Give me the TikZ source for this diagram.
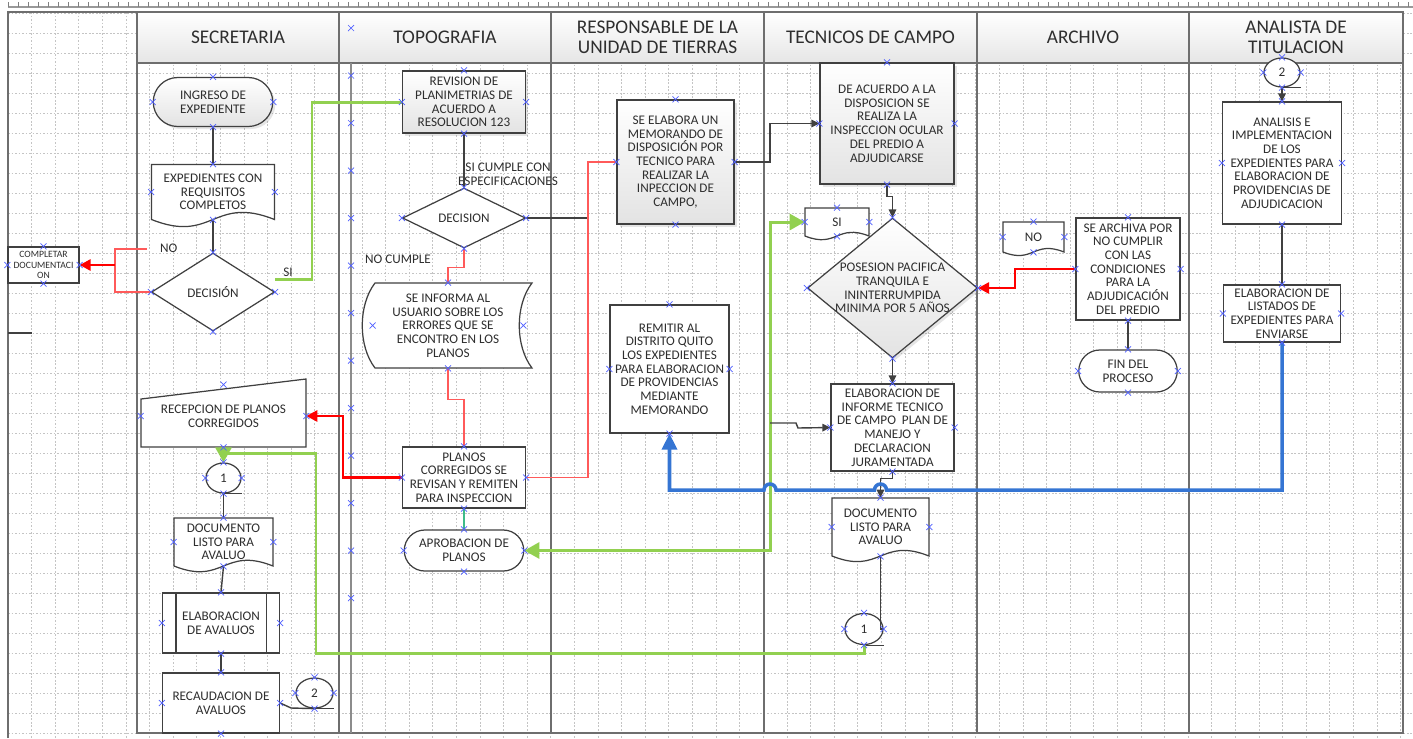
\documentclass[tikz,border=0pt]{standalone}
\usepackage{fontspec}
\setmainfont{Carlito}
\usetikzlibrary{arrows.meta, positioning, shapes.geometric, shapes.misc, shadows}
\def\pu{0.2mm}
\definecolor{lineGray}{HTML}{404040}
\definecolor{laneGray}{HTML}{6E6E6E}
\definecolor{gridGray}{HTML}{C4C4C4}
\definecolor{txtGray}{HTML}{2E2E2E}
\definecolor{flowRed}{HTML}{FF0000}
\definecolor{thinRed}{HTML}{FF5A5A}
\definecolor{flowGreen}{HTML}{92D050}
\definecolor{tealGreen}{HTML}{3DBB8A}
\definecolor{flowBlue}{HTML}{3575D3}
\definecolor{markBlue}{HTML}{5060FF}
\newcommand{\docnode}[6]{%
% #1 = name, #2 = x, #3 = y, #4 = width, #5 = height, #6 = text
\draw[shape line, fill=white]
({#2-#4/2},{#3-#5/2}) -- ({#2+#4/2},{#3-#5/2}) -- ({#2+#4/2},{#3+#5/2})
.. controls ({#2},{#3+#5/2-0.2*#4}) and ({#2},{#3+#5/2+0.2*#4}) .. ({#2-#4/2},{#3+#5/2}) -- cycle;
\node[txt, wh={#4}{#5}] (#1) at (#2,#3) {#6};
}
\begin{document}
\begin{tikzpicture}[
    x=\pu, y=-\pu,
    >={Triangle[length=1.6mm,width=1.5mm]},
    txt/.style={font=\fontsize{7.5}{7.8}\selectfont, text=txtGray, align=center, inner sep=1pt},
    wh/.style 2 args={minimum width=#1*\pu, minimum height=#2*\pu},
    shape line/.style={draw=lineGray, line width=0.7pt},
    box/.style={txt, rectangle, shape line, fill=white},
    grayfill/.style={top color=white, bottom color=black!11, drop shadow={opacity=0.2, shadow xshift=0.5mm, shadow yshift=-0.5mm}},
    term/.style={txt, rounded rectangle, shape line, fill=white},
    decision/.style={diamond, shape line, fill=white, inner sep=0pt},
    oncon/.style={txt, ellipse, shape line, fill=white, inner sep=0pt},
    conn/.style={draw=lineGray, line width=0.8pt},
    lanehead/.style={draw=laneGray, line width=1pt, top color=white, bottom color=black!10, font=\fontsize{11}{11.5}\selectfont, text=txtGray, align=center, minimum height=51*\pu},
    lane/.style={draw=laneGray, line width=1.1pt},
    gridline/.style={draw=gridGray, line width=0.35pt, dash pattern=on 1pt off 1pt},
    green line/.style={draw=flowGreen, line width=1.7pt},
    red thick/.style={draw=flowRed, line width=1.6pt},
    red thin/.style={draw=thinRed, line width=0.6pt},
    blue line/.style={draw=flowBlue, line width=2pt},
    xmark/.style={draw=markBlue, line width=0.4pt}
]
\useasboundingbox (0,0) rectangle (1413,738);
\fill[white] (0,0) rectangle (1413,738);

% background grid and ruler
\foreach \i in {0,...,59}
    \draw[gridline] ({8+23.6*\i},12) -- ({8+23.6*\i},738);
\foreach \i in {0,...,36}
    \draw[gridline] (8,{13+20*\i}) -- (1413,{13+20*\i});
\draw[black!40, line width=0.8pt] (8,7) -- (1413,7);
\foreach \i in {0,...,140}
    \draw[black!50, line width=0.4pt] ({8+10*\i},2) -- ({8+10*\i},7);
\draw[lane] (8,738) -- (8,12) -- (137,12);
\draw[conn] (8,333) -- (32,333);

% lanes
\node[lanehead, minimum width=202*\pu] (hsec) at (238,37.5) {SECRETARIA};
\node[lanehead, minimum width=212*\pu] (htop) at (445,37.5) {TOPOGRAFIA};
\node[lanehead, minimum width=213*\pu] (hres) at (657.5,37.5) {RESPONSABLE DE LA\\UNIDAD DE TIERRAS};
\node[lanehead, minimum width=213*\pu] (htec) at (870.5,37.5) {TECNICOS DE CAMPO};
\node[lanehead, minimum width=212*\pu] (harc) at (1083,37.5) {ARCHIVO};
\node[lanehead, minimum width=214*\pu] (hana) at (1296,37.5) {ANALISTA DE\\TITULACION};
\draw[lane] (137,12) rectangle (1403,733);
\foreach \x in {339,551,764,977,1189}
    \draw[lane] (\x,12) -- (\x,733);
\draw[lane, draw=black!45] (351,63) -- (351,733);

% secretaria
\node[term, grayfill, wh={123}{49}] (ingreso) at (213,102) {INGRESO DE\\EXPEDIENTE};
\docnode{expcomp}{213}{192}{123}{55}{EXPEDIENTES CON\\REQUISITOS\\COMPLETOS}
\node[decision, wh={123}{78}, label={[txt]center:DECISIÓN}] (dec1) at (213,292) {};
\node[box, wh={71}{36}, font=\fontsize{5.5}{5.9}\selectfont, inner sep=0pt] (compdoc) at (43.5,265) {COMPLETAR\\DOCUMENTACI\\ON};
\draw[shape line, fill=white] (141,399) -- (306,379) -- (306,447) -- (141,447) -- cycle;
\node[txt, wh={165}{62}] (recep) at (223.5,416) {RECEPCION DE PLANOS\\CORREGIDOS};
\node[oncon, wh={35}{30}] (con1a) at (223.5,478) {1};
\docnode{doc1}{223.5}{542}{99}{48}{DOCUMENTO\\LISTO PARA\\AVALUO}
\node[box, wh={117}{60}] (elab) at (221,623) {ELABORACION\\DE AVALUOS};
\draw[shape line] ([xshift=14*\pu]elab.north west) -- ([xshift=14*\pu]elab.south west);
\draw[shape line] ([xshift=-14*\pu]elab.north east) -- ([xshift=-14*\pu]elab.south east);
\node[box, wh={117}{60}] (recaud) at (221,703) {RECAUDACION DE\\AVALUOS};
\node[oncon, wh={37}{30}] (con2a) at (314.5,693) {2};
\node[txt, anchor=west] (lno) at (158,248) {NO};
\node[txt] (lsi) at (288,272) {SI};

% topografia
\node[box, grayfill, wh={123}{62}] (revision) at (464,102) {REVISION DE\\PLANIMETRIAS DE\\ACUERDO A\\RESOLUCION 123};
\node[decision, wh={123}{60}, label={[txt]center:DECISION}] (dec2) at (464,218) {};
\draw[shape line, fill=white] (375,283) -- (532,283) .. controls (515,305) and (515,346) .. (532,368)
    -- (375,368) .. controls (358,346) and (358,305) .. (375,283) -- cycle;
\node[txt, wh={150}{85}] (informa) at (448,325.5) {SE INFORMA AL\\USUARIO SOBRE LOS\\ERRORES QUE SE\\ENCONTRO EN LOS\\PLANOS};
\node[box, wh={123}{61}] (planos) at (464,477.5) {PLANOS\\CORREGIDOS SE\\REVISAN Y REMITEN\\PARA INSPECCION};
\node[term, wh={123}{41}] (aprob) at (464,550.5) {APROBACION DE\\PLANOS};
\node[txt] (lcumple) at (508,174) {SI CUMPLE CON\\ESPECIFICACIONES};
\node[txt, anchor=west] (lnocumple) at (363,259) {NO CUMPLE};

% responsable de la unidad de tierras
\node[box, grayfill, wh={117}{124}] (memo) at (675.5,162) {SE ELABORA UN\\MEMORANDO DE\\DISPOSICIÓN POR\\TECNICO PARA\\REALIZAR LA\\INPECCION DE\\CAMPO,};
\node[box, wh={119}{128}] (remitir) at (669.5,369) {REMITIR AL\\DISTRITO QUITO\\LOS EXPEDIENTES\\PARA ELABORACION\\DE PROVIDENCIAS\\MEDIANTE\\MEMORANDO};

% tecnicos de campo
\node[box, grayfill, wh={134}{121}] (acuerdo) at (887,123.5) {DE ACUERDO A LA\\DISPOSICION SE\\REALIZA LA\\INSPECCION OCULAR\\DEL PREDIO A\\ADJUDICARSE};
\docnode{sidoc}{837}{222}{64}{28}{SI}
\node[decision, grayfill, wh={170}{140}, label={[txt]center:{POSESION PACIFICA\\TRANQUILA E\\ININTERRUMPIDA\\MINIMA POR 5 AÑOS}}] (posesion) at (892.5,288) {};
\node[box, wh={123}{87}] (informe) at (892.5,427.5) {ELABORACION DE\\INFORME TECNICO\\DE CAMPO~ PLAN DE\\MANEJO Y\\DECLARACION\\JURAMENTADA};
\docnode{doc2}{880.5}{527}{97}{58}{DOCUMENTO\\LISTO PARA\\AVALUO}
\node[oncon, wh={38}{31}] (con1b) at (864,629) {1};

% archivo
\docnode{nodoc}{1033.5}{237}{61}{30}{NO}
\node[box, wh={104}{102}] (archiva) at (1128,269) {SE ARCHIVA POR\\NO CUMPLIR\\CON LAS\\CONDICIONES\\PARA LA\\ADJUDICACIÓN\\DEL PREDIO};
\node[term, wh={102}{42}] (fin) at (1128,371) {FIN DEL\\PROCESO};

% analista de titulacion
\node[oncon, wh={36}{29}] (con2b) at (1282,72.5) {2};
\node[box, wh={119}{122}] (analisis) at (1282,163) {ANALISIS E\\IMPLEMENTACION\\DE LOS\\EXPEDIENTES PARA\\ELABORACION DE\\PROVIDENCIAS DE\\ADJUDICACION};
\node[box, wh={117}{57}] (listados) at (1282,313.5) {ELABORACION DE\\LISTADOS DE\\EXPEDIENTES PARA\\ENVIARSE};

\foreach \c in {con1a,con2a,con1b,con2b}
    \draw[shape line] (\c.south) -- (\c.south -| \c.east);

% connectors
\coordinate (nojoin) at (115,249);
\coordinate (siturn) at (312,0);
\coordinate (redx1) at (343,0);
\coordinate (gbot) at (316,653);
\coordinate (gtop) at (316,453);
\coordinate (redx2) at (588,0);
\coordinate (gx) at (770,0);
\coordinate (gjoin) at (770,423);
\coordinate (rx3) at (1015,0);
\coordinate (bluey) at (0,490);

\draw[conn] (ingreso.south) -- (expcomp.north);
\draw[conn] (expcomp.south) -- (dec1.north);
\draw[red thin] (dec1.west) -| (nojoin) -- ++(32,0);
\draw[red thick, -{Triangle[length=2.2mm,width=2.2mm]}] (nojoin |- compdoc.east) -- (compdoc.east);
\draw[green line] ([yshift=2.6mm]dec1.east) -| (siturn |- revision.west) -- (revision.west);
\draw[conn] (con1a.south) -- (doc1.north);
\draw[conn] (doc1.south) -- (elab.north);
\draw[conn] (elab.south) -- (recaud.north);
\draw[conn] (recaud.east) -- ++(11,5) -- (con2a.south);
\draw[red thick, -{Triangle[length=2.2mm,width=2.2mm]}] (planos.west) -- (planos.west -| redx1) |- (recep.east);
\draw[green line, -{Triangle[length=3mm,width=3.2mm]}] (con1b.south) |- (gbot) -- (gtop) -| (con1a.north);

\draw[conn] (revision.south) -- (dec2.north);
\draw[red thin] (dec2.south) -- ++(0,19) -| (informa.north);
\draw[red thin] (informa.south) -- ++(0,31) -| (planos.north);
\draw[draw=tealGreen, line width=0.8pt] (planos.south) -- (aprob.north);
\draw[conn] (dec2.east) -- (dec2.east -| redx2);
\draw[red thin] (planos.east) -| (redx2 |- memo.west) -- (memo.west);
\draw[green line, {Triangle[length=3mm,width=3.2mm]}-{Triangle[length=3mm,width=3.2mm]}] (aprob.east) -| (gx |- sidoc.west) -- (sidoc.west);

\draw[conn, ->] (memo.east) -| (gx |- acuerdo.west) -- (acuerdo.west);
\draw[conn, ->] (acuerdo.south) -- ++(0,12) -| (posesion.north);
\draw[conn, ->] (posesion.south) -- (informe.north);
\draw[conn, ->] (gjoin) -- ++(26,0) -- ++(2,5) -- (informe.west);
\draw[conn, ->] (informe.south) -- ++(0,7) -| (doc2.north);
\draw[conn] (doc2.south) |- (con1b.east);

\draw[red thick, -{Triangle[length=2.2mm,width=2.2mm]}] (archiva.west) -- (archiva.west -| rx3) |- (posesion.east);
\draw[conn] (archiva.south) -- (fin.north);

\draw[conn, ->] (con2b.south) -- (analisis.north);
\draw[conn] (analisis.south) -- (listados.north);
\draw[blue line, -{Triangle[length=3.2mm,width=3mm]}] (listados.south) -- (listados.south |- bluey)
    -- (886.5,490) arc[start angle=0, end angle=180, radius=1.2mm]
    -- (776,490) arc[start angle=0, end angle=180, radius=1.2mm]
    -- (remitir.south |- bluey) -- (remitir.south);

% connection points
\foreach \n in {ingreso,expcomp,dec1,compdoc,recep,con1a,doc1,elab,recaud,con2a,revision,dec2,informa,planos,aprob,memo,remitir,acuerdo,sidoc,posesion,informe,doc2,con1b,nodoc,archiva,fin,con2b,analisis,listados}
    \foreach \a in {north,south,east,west}
        \draw[xmark] (\n.\a) +(-3,-3) -- +(3,3) +(-3,3) -- +(3,-3);
\foreach \k in {0,...,12}
    \draw[xmark] (351,{28+47.5*\k}) +(-3,-3) -- +(3,3) +(-3,3) -- +(3,-3);
\end{tikzpicture}
\end{document}
